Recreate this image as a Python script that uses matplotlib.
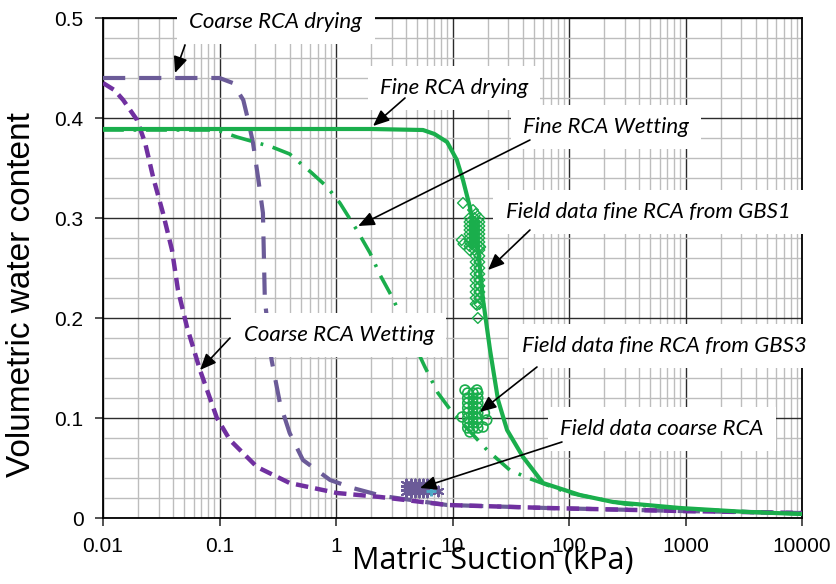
import numpy as np
import matplotlib
matplotlib.use("Agg")
import matplotlib.pyplot as plt
from matplotlib.ticker import LogLocator, MultipleLocator, NullFormatter, FuncFormatter

plt.rcParams["lines.scale_dashes"] = False
plt.rcParams["font.family"] = ["Liberation Sans", "DejaVu Sans"]

# --- curves (suction in kPa, volumetric water content) ---
coarse_dry_s = [0.01, 0.1, 0.13, 0.16, 0.176, 0.194, 0.214, 0.236, 0.245, 0.28, 0.33, 0.40,
                0.52, 0.89, 1.39, 2.5, 9.0, 65, 900, 10000]
coarse_dry_w = [0.440, 0.440, 0.435, 0.418, 0.398, 0.375, 0.341, 0.305, 0.218, 0.158, 0.115, 0.085,
                0.058, 0.038, 0.030, 0.022, 0.013, 0.010, 0.007, 0.005]

coarse_wet_s = [0.01, 0.0125, 0.0149, 0.0196, 0.023, 0.0269, 0.0327, 0.0391, 0.044, 0.0526, 0.068,
                0.095, 0.123, 0.21, 0.40, 1.02, 2.4, 9.0, 65, 900, 10000]
coarse_wet_w = [0.435, 0.428, 0.418, 0.398, 0.375, 0.341, 0.305, 0.268, 0.228, 0.191, 0.148,
                0.100, 0.078, 0.051, 0.035, 0.025, 0.021, 0.013, 0.010, 0.007, 0.005]

fine_dry_s = [0.01, 2.0, 5.58, 7.0, 8.98, 10.9, 12.3, 14.1, 16.6, 18.3, 21.0, 24.6, 29.4, 40.3,
              59.8, 124, 239, 898, 3373, 10000]
fine_dry_w = [0.389, 0.389, 0.388, 0.384, 0.376, 0.358, 0.338, 0.311, 0.268, 0.218, 0.168, 0.118,
              0.088, 0.061, 0.035, 0.023, 0.016, 0.010, 0.006, 0.004]

fine_wet_s = [0.01, 0.095, 0.141, 0.282, 0.40, 0.62, 0.84, 1.08, 1.51, 1.96, 2.39, 3.03, 5.8, 7.5,
              9.9, 19.8, 31, 44.5, 100, 300, 1000, 10000]
fine_wet_w = [0.388, 0.388, 0.381, 0.371, 0.364, 0.345, 0.331, 0.315, 0.288, 0.265, 0.243, 0.221,
              0.151, 0.125, 0.106, 0.068, 0.048, 0.040, 0.025, 0.014, 0.009, 0.004]

# field data fine RCA, GBS1 (diamonds)
gbs1_s = [12.3, 15.0, 15.8, 12.0, 17.3, 16.2, 16.5, 12.4,
          14.0, 15.4, 17.0, 14.0, 15.4, 17.0, 14.0, 15.4, 17.0, 14.0, 15.4, 17.0,
          14.0, 15.4, 17.0, 14.0, 15.4, 17.0, 14.0, 15.4, 17.0, 14.0, 15.4, 17.0,
          14.0, 15.4, 17.0,
          15.8, 17.0, 15.8, 17.0, 15.8, 17.0, 15.8, 17.0, 15.8, 17.0, 15.8, 17.0,
          15.8, 17.0, 15.8, 17.0, 15.8, 17.0]
gbs1_w = [0.315, 0.308, 0.304, 0.278, 0.271, 0.213, 0.200, 0.274,
          0.300, 0.300, 0.300, 0.296, 0.296, 0.296, 0.292, 0.292, 0.292, 0.288, 0.288, 0.288,
          0.284, 0.284, 0.284, 0.280, 0.280, 0.280, 0.276, 0.276, 0.276, 0.272, 0.272, 0.272,
          0.268, 0.268, 0.268,
          0.262, 0.262, 0.256, 0.256, 0.250, 0.250, 0.244, 0.244, 0.238, 0.238, 0.232, 0.232,
          0.226, 0.226, 0.220, 0.220, 0.214, 0.214]

# field data fine RCA, GBS3 (circles)
gbs3_s = [12.8, 16.2, 12.1, 19.7, 18.3, 14.1, 18.8,
          13.5, 15.0, 16.5, 13.5, 15.0, 16.5, 13.5, 15.0, 16.5, 13.5, 15.0, 16.5,
          13.5, 15.0, 16.5, 13.5, 15.0, 16.5, 13.5, 15.0, 16.5, 13.5, 15.0, 16.5]
gbs3_w = [0.128, 0.128, 0.101, 0.098, 0.091, 0.086, 0.105,
          0.125, 0.125, 0.125, 0.120, 0.120, 0.120, 0.115, 0.115, 0.115, 0.110, 0.110, 0.110,
          0.105, 0.105, 0.105, 0.100, 0.100, 0.100, 0.095, 0.095, 0.095, 0.090, 0.090, 0.090]

# field data coarse RCA (asterisks)
coarse_field_s = [4.0, 4.4, 4.8, 5.2, 5.6, 6.0, 4.0, 4.4, 4.8, 5.2, 5.6, 6.0,
                  4.0, 4.4, 4.8, 5.2, 5.6, 6.0, 7.5]
coarse_field_w = [0.034, 0.034, 0.034, 0.034, 0.034, 0.034, 0.030, 0.030, 0.030, 0.030, 0.030, 0.030,
                  0.026, 0.026, 0.026, 0.026, 0.026, 0.026, 0.027]
coarse_field2_s = [6.6]
coarse_field2_w = [0.027]

x_ticks = [0.01, 0.1, 1, 10, 100, 1000, 10000]
y_ticks = [0, 0.1, 0.2, 0.3, 0.4, 0.5]

GREEN = "#1AAE4C"
PURPLE = "#7030A0"
GREY_PURPLE = "#6B5B98"

fig = plt.figure(figsize=(8.36, 5.84), dpi=100)
ax = fig.add_axes([103 / 836, 66 / 584, 699 / 836, 500 / 584])

ax.plot(coarse_dry_s, coarse_dry_w, color=GREY_PURPLE, lw=3, dashes=(16, 10), zorder=3)
ax.plot(coarse_wet_s, coarse_wet_w, color=PURPLE, lw=3.2, dashes=(9, 5), zorder=3)
ax.plot(fine_wet_s, fine_wet_w, color=GREEN, lw=2.6, dashes=(15, 7, 2, 7), zorder=3)
ax.plot(fine_dry_s, fine_dry_w, color=GREEN, lw=3, zorder=3)

ax.scatter(gbs1_s, gbs1_w, marker="D", s=30, facecolors="none", edgecolors=GREEN, linewidths=1.0, zorder=4)
ax.scatter(gbs3_s, gbs3_w, marker="o", s=50, facecolors="none", edgecolors=GREEN, linewidths=1.2, zorder=4)
ax.scatter(coarse_field_s, coarse_field_w, marker=(6, 2, 0), s=50, color=GREY_PURPLE, linewidths=1.5, zorder=4)
ax.scatter(coarse_field2_s, coarse_field2_w, marker="+", s=50, color="#4BACC6", linewidths=2, zorder=4)

ax.set_xscale("log")
ax.set_xlim(0.01, 10000)
ax.set_ylim(0, 0.5)
ax.set_xticks(x_ticks)
ax.set_yticks(y_ticks)
ax.xaxis.set_minor_locator(LogLocator(base=10, subs=np.arange(2, 10), numticks=30))
ax.xaxis.set_minor_formatter(NullFormatter())
ax.yaxis.set_minor_locator(MultipleLocator(0.02))
ax.xaxis.set_major_formatter(FuncFormatter(lambda v, p: f"{v:g}"))
ax.yaxis.set_major_formatter(FuncFormatter(lambda v, p: f"{v:g}"))

ax.set_axisbelow(True)
ax.grid(which="minor", color="#BDBDBD", lw=1.0)
ax.grid(which="major", color="#2b2b2b", lw=1.0)
ax.tick_params(which="minor", length=0)
ax.tick_params(which="major", direction="out", length=6, width=1.2, labelsize=15, pad=8, color="#333333")
for sp in ax.spines.values():
    sp.set_color("black")
    sp.set_linewidth(1.3)

fig.text(493 / 836, 1 - 561 / 584, "Matric Suction (kPa)", ha="center", va="center",
         fontsize=22, family=["Open Sans", "DejaVu Sans"])
fig.text(22 / 836, 1 - 295 / 584, "Volumetric water content", ha="center", va="center",
         rotation=90, fontsize=24)

# annotations: (label, text position, arrow tail, arrow tip)
labels = ["Coarse RCA drying", "Fine RCA drying", "Fine RCA Wetting",
          "Field data fine RCA from GBS1", "Field data fine RCA from GBS3",
          "Field data coarse RCA", "Coarse RCA Wetting"]
label_pos = [(0.305, 0.496), (10.3, 0.430), (208, 0.391), (476, 0.306), (653, 0.172),
             (628, 0.089), (1.06, 0.183)]
arrow_tail = [(0.0506, 0.473), (3.91, 0.420), (46.2, 0.378), (46.2, 0.288), (53.1, 0.151),
              (87, 0.076), (0.123, 0.180)]
arrow_tip = [(0.0415, 0.445), (2.08, 0.392), (1.55, 0.292), (20.2, 0.248), (17.2, 0.106),
             (5.26, 0.030), (0.068, 0.148)]

for lab, pos, tail, tip in zip(labels, label_pos, arrow_tail, arrow_tip):
    ax.text(pos[0], pos[1], lab, ha="center", va="center", fontsize=16, style="italic",
            family=["Lato", "Open Sans", "DejaVu Sans"], zorder=6,
            bbox=dict(boxstyle="square,pad=0.55", fc="white", ec="none"))
    ax.annotate("", xy=tip, xytext=tail,
                arrowprops=dict(arrowstyle="-|>,head_length=0.7,head_width=0.3", color="black",
                                lw=1.2, mutation_scale=14, shrinkA=0, shrinkB=0),
                zorder=7)

fig.savefig("out.png", dpi=100)
